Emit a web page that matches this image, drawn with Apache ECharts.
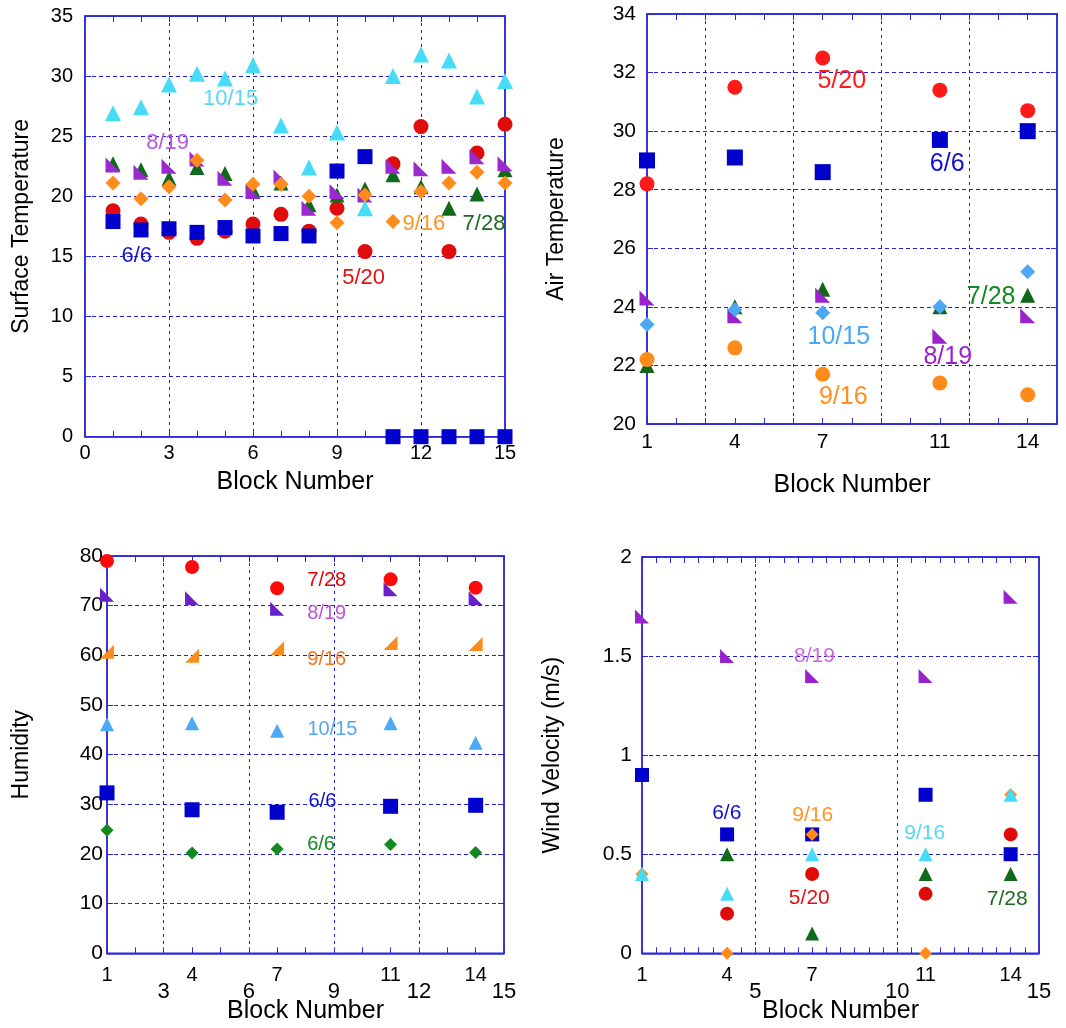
<!DOCTYPE html>
<html>
<head>
<meta charset="utf-8">
<script src="https://cdn.jsdelivr.net/npm/echarts@6/dist/echarts.min.js"></script>
<style>
html, body { margin: 0; padding: 0; background: #fff; }
#chart { width: 1066px; height: 1028px; }
</style>
</head>
<body>
<div id="chart"></div>
<script>
// ---- Surface temperature, every block 1..15 ----
const surfBlocks = [1, 2, 3, 4, 5, 6, 7, 8, 9, 10, 11, 12, 13, 14, 15];
const surf0520 = [18.8, 17.7, 17.0, 16.5, 17.1, 17.7, 18.5, 17.1, 19.0, 15.4, 22.7, 25.8, 15.4, 23.6, 26.0];
const surf0606 = [17.9, 17.2, 17.3, 17.0, 17.4, 16.7, 16.9, 16.7, 22.1, 23.3, 0, 0, 0, 0, 0];
const surf0728 = [22.7, 22.2, 21.5, 22.4, 21.9, 20.5, 21.1, 19.3, 20.1, 20.6, 21.8, 20.8, 19.0, 20.2, 22.2];
const surf0819 = [22.6, 22.0, 22.5, 23.1, 21.5, 20.4, 21.6, 19.0, 20.4, 20.1, 22.5, 22.3, 22.5, 23.3, 22.7];
const surf0916 = [21.1, 19.8, 20.8, 23.0, 19.7, 21.0, 21.0, 20.0, 17.8, 20.1, 17.9, 20.4, 21.1, 22.0, 21.1];
const surf1015 = [26.9, 27.4, 29.3, 30.2, 29.8, 30.9, 25.9, 22.4, 25.3, 19.0, 30.0, 31.8, 31.3, 28.3, 29.6];

// ---- Sampled blocks for air temperature, humidity and wind ----
const sampleBlocks = [1, 4, 7, 11, 14];

const air0520 = [28.2, 31.5, 32.5, 31.4, 30.7];
const air0606 = [29.0, 29.1, 28.6, 29.7, 30.0];
const air0728 = [22.0, 24.0, 24.6, 24.0, 24.4];
const air0819 = [24.3, 23.7, 24.4, 23.0, 23.7];
const air0916 = [22.2, 22.6, 21.7, 21.4, 21.0];
const air1015 = [23.4, 23.9, 23.8, 24.0, 25.2];

const humRed = [79.0, 77.8, 73.5, 75.3, 73.6];
const humPurple = [72.2, 71.5, 69.4, 73.3, 71.5];
const humOrange = [60.7, 59.9, 61.4, 62.5, 62.3];
const humLightBlue = [46.1, 46.3, 44.8, 46.3, 42.4];
const humBlue = [32.3, 28.9, 28.4, 29.6, 29.8];
const humGreen = [24.8, 20.2, 21.0, 21.9, 20.3];

const wind0520 = [null, 0.2, 0.4, 0.3, 0.6];
const wind0606 = [0.9, 0.6, 0.6, 0.8, 0.5];
const wind0728 = [null, 0.5, 0.1, 0.4, 0.4];
const wind0819 = [1.7, 1.5, 1.4, 1.4, 1.8];
const wind0916 = [0.4, 0, 0.6, 0, 0.8];
const windCyan = [0.4, 0.3, 0.5, 0.5, 0.8];

// ---- Axis tick labels ----
const surfXLabels = [0, 3, 6, 9, 12, 15];
const blockLabels = [1, 4, 7, 11, 14];
const thirdsLabels = [3, 6, 9, 12, 15];
const fifthsLabels = [5, 10, 15];

// ---- Date tags written inside each panel: [block, value, text] ----
const surfNotes = [[5.2, 28.1, '10/15'], [2.95, 24.4, '8/19'], [1.85, 15.0, '6/6'],
                   [9.95, 13.2, '5/20'], [12.1, 17.7, '9/16'], [14.25, 17.7, '7/28']];
const airNotes = [[7.65, 31.7, '5/20'], [11.25, 28.87, '6/6'], [12.75, 24.33, '7/28'],
                  [7.55, 22.97, '10/15'], [11.27, 22.29, '8/19'], [7.7, 20.92, '9/16']];
const humNotes = [[8.75, 75.1, '7/28'], [8.75, 68.4, '8/19'], [8.75, 59.1, '9/16'],
                  [8.95, 45.1, '10/15'], [8.6, 30.5, '6/6'], [8.55, 22.0, '6/6']];
const windNotes = [[7.08, 1.5, '8/19'], [3.99, 0.706, '6/6'], [7.02, 0.698, '9/16'],
                   [10.97, 0.607, '9/16'], [6.9, 0.279, '5/20'], [13.88, 0.274, '7/28']];

const FONT = '"Liberation Sans", Arial, Helvetica, sans-serif';
const FRAME = '#2b2bd6';
const DASH = '#1f1fd8';
const LOWER_LEFT = 'path://M0 0L0 10L10 10Z';
const LOWER_RIGHT = 'path://M10 0L10 10L0 10Z';

function range(a, b, step) {
  const out = [];
  for (let v = a; v <= b + 1e-9; v += step) out.push(Math.round(v * 100) / 100);
  return out;
}

const option = {
  animation: false,
  backgroundColor: '#ffffff',
  grid: [], xAxis: [], yAxis: [], series: []
};

function addPanel(p) {
  const gi = option.grid.length;
  option.grid.push({
    left: p.box[0], top: p.box[1], width: p.box[2], height: p.box[3],
    show: true, borderColor: FRAME, borderWidth: 1.5, backgroundColor: 'transparent',
    containLabel: false, outerBoundsMode: 'none'
  });
  const xi = option.xAxis.length;
  const yi = option.yAxis.length;
  const frameLine = { show: true, onZero: false, lineStyle: { color: FRAME, width: 1.5 } };
  const tickStyle = { color: FRAME, width: 1 };

  // bottom axis: block labels and small inward ticks
  option.xAxis.push({
    type: 'value', gridIndex: gi, position: 'bottom', min: p.xMin, max: p.xMax,
    name: p.xName, nameLocation: 'middle', nameGap: p.xNameGap,
    nameTextStyle: { fontFamily: FONT, fontSize: 25, color: '#000' },
    axisLine: frameLine,
    axisTick: { show: true, inside: true, length: 6, customValues: p.xTicks, lineStyle: tickStyle },
    axisLabel: { show: true, customValues: p.xLabels, fontFamily: FONT, fontSize: p.xLabelSize,
                 color: '#000', margin: p.xLabelMargin },
    splitLine: { show: false }
  });
  // second bottom axis: vertical dashed grid, optional lower label row
  option.xAxis.push({
    type: 'value', gridIndex: gi, position: 'bottom', min: p.xMin, max: p.xMax,
    axisLine: { show: false, onZero: false },
    axisTick: { show: false, customValues: p.xGrid },
    axisLabel: p.xLabels2
      ? { show: true, customValues: p.xLabels2, fontFamily: FONT, fontSize: 22, color: '#000', margin: p.xLabel2Margin }
      : { show: false },
    splitLine: { show: true, lineStyle: { color: DASH, width: 1, type: [3, 4] } }
  });
  // top edge ticks
  option.xAxis.push({
    type: 'value', gridIndex: gi, position: 'top', min: p.xMin, max: p.xMax,
    axisLine: frameLine,
    axisTick: { show: true, inside: true, length: 6, customValues: p.xTicks, lineStyle: tickStyle },
    axisLabel: { show: false }, splitLine: { show: false }
  });
  // left value axis
  option.yAxis.push({
    type: 'value', gridIndex: gi, position: 'left', min: p.yMin, max: p.yMax, interval: p.yStep,
    name: p.yName, nameLocation: 'middle', nameGap: p.yNameGap,
    nameTextStyle: { fontFamily: FONT, fontSize: 23, color: '#000' },
    axisLine: frameLine,
    axisTick: { show: true, inside: true, length: 6, lineStyle: tickStyle },
    axisLabel: { show: true, fontFamily: FONT, fontSize: p.yLabelSize, color: '#000', margin: p.yLabelMargin },
    splitLine: { show: true, lineStyle: { color: DASH, width: 1, type: [4, 3] } }
  });
  // right edge ticks
  option.yAxis.push({
    type: 'value', gridIndex: gi, position: 'right', min: p.yMin, max: p.yMax, interval: p.yStep,
    axisLine: frameLine,
    axisTick: { show: true, inside: true, length: 6, lineStyle: tickStyle },
    axisLabel: { show: false }, splitLine: { show: false }
  });

  p.series.forEach(function (s) {
    const data = [];
    p.blocks.forEach(function (b, i) {
      if (s.values[i] !== null && s.values[i] !== undefined) data.push([b, s.values[i]]);
    });
    option.series.push({
      type: 'scatter', name: s.name, xAxisIndex: xi, yAxisIndex: yi, silent: true,
      symbol: s.symbol, symbolSize: s.size, itemStyle: { color: s.color, opacity: 1 },
      emphasis: { disabled: true }, data: data
    });
  });

  p.notes.forEach(function (n, i) {
    option.series.push({
      type: 'scatter', xAxisIndex: xi, yAxisIndex: yi, silent: true, z: 5,
      symbol: 'circle', symbolSize: 1, itemStyle: { color: 'rgba(255,255,255,0)', opacity: 1 },
      emphasis: { disabled: true },
      label: { show: true, position: 'inside', formatter: n[2], color: p.noteColors[i],
               fontFamily: FONT, fontSize: p.noteSize, textBorderWidth: 0, opacity: 1 },
      data: [[n[0], n[1]]]
    });
  });
}

// Surface temperature
addPanel({
  box: [85, 16, 420, 420.7],
  xMin: 0, xMax: 15, xTicks: range(0, 15, 1), xLabels: surfXLabels, xGrid: [3, 6, 9, 12],
  xLabelSize: 20, xLabelMargin: 7, xName: 'Block Number', xNameGap: 33,
  yMin: 0, yMax: 35, yStep: 5, yLabelSize: 20, yLabelMargin: 12,
  yName: 'Surface Temperature', yNameGap: 52,
  blocks: surfBlocks,
  series: [
    { name: '5/20', values: surf0520, symbol: 'circle', size: 15, color: '#e00b0b' },
    { name: '6/6', values: surf0606, symbol: 'rect', size: 15, color: '#0000cc' },
    { name: '7/28', values: surf0728, symbol: 'triangle', size: 15, color: '#116a1c' },
    { name: '8/19', values: surf0819, symbol: LOWER_LEFT, size: 15, color: '#9a2acc' },
    { name: '9/16', values: surf0916, symbol: 'diamond', size: 15, color: '#ff8c1a' },
    { name: '10/15', values: surf1015, symbol: 'triangle', size: 16, color: '#46dcf8' }
  ],
  notes: surfNotes, noteSize: 22,
  noteColors: ['#55d8f5', '#b955dc', '#1414cc', '#e01010', '#ff9422', '#1a6b1a']
});

// Air temperature
addPanel({
  box: [647, 14, 410, 410],
  xMin: 1, xMax: 15, xTicks: range(1, 15, 1), xLabels: blockLabels, xGrid: [3, 6, 9, 12],
  xLabelSize: 21, xLabelMargin: 8, xName: 'Block Number', xNameGap: 49,
  yMin: 20, yMax: 34, yStep: 2, yLabelSize: 21, yLabelMargin: 11,
  yName: 'Air Temperature', yNameGap: 79,
  blocks: sampleBlocks,
  series: [
    { name: '5/20', values: air0520, symbol: 'circle', size: 15, color: '#ff1a1a' },
    { name: '6/6', values: air0606, symbol: 'rect', size: 16, color: '#0000cc' },
    { name: '7/28', values: air0728, symbol: 'triangle', size: 15, color: '#11661a' },
    { name: '8/19', values: air0819, symbol: LOWER_LEFT, size: 15, color: '#9a22cc' },
    { name: '9/16', values: air0916, symbol: 'circle', size: 15, color: '#ff8c1a' },
    { name: '10/15', values: air1015, symbol: 'diamond', size: 15, color: '#4aa8f5' }
  ],
  notes: airNotes, noteSize: 25,
  noteColors: ['#ff1a1a', '#1010cc', '#138a20', '#4aa8f5', '#9a22cc', '#ff9020']
});

// Humidity
addPanel({
  box: [107, 556, 397, 397.3],
  xMin: 1, xMax: 15, xTicks: range(1, 15, 1), xLabels: blockLabels, xGrid: [3, 6, 9, 12],
  xLabels2: thirdsLabels, xLabel2Margin: 28,
  xLabelSize: 20, xLabelMargin: 12, xName: 'Block Number', xNameGap: 45,
  yMin: 0, yMax: 80, yStep: 10, yLabelSize: 21, yLabelMargin: 4,
  yName: 'Humidity', yNameGap: 74,
  blocks: sampleBlocks,
  series: [
    { name: '7/28', values: humRed, symbol: 'circle', size: 14, color: '#ff0a0a' },
    { name: '8/19', values: humPurple, symbol: LOWER_LEFT, size: 14, color: '#6a1fcc' },
    { name: '9/16', values: humOrange, symbol: LOWER_RIGHT, size: 14, color: '#ff8c1a' },
    { name: '10/15', values: humLightBlue, symbol: 'triangle', size: 14, color: '#4aaaf5' },
    { name: '6/6', values: humBlue, symbol: 'rect', size: 15, color: '#0000cc' },
    { name: '6/6 ', values: humGreen, symbol: 'diamond', size: 13, color: '#138a20' }
  ],
  notes: humNotes, noteSize: 20,
  noteColors: ['#ee0000', '#bb55dd', '#f07820', '#55aaee', '#1010cc', '#138a20']
});

// Wind velocity
addPanel({
  box: [642, 557, 397, 396.3],
  xMin: 1, xMax: 15, xTicks: range(1, 15, 0.5), xLabels: blockLabels, xGrid: [5, 10],
  xLabels2: fifthsLabels, xLabel2Margin: 28,
  xLabelSize: 20, xLabelMargin: 12, xName: 'Block Number', xNameGap: 45,
  yMin: 0, yMax: 2, yStep: 0.5, yLabelSize: 21, yLabelMargin: 10,
  yName: 'Wind Velocity (m/s)', yNameGap: 78,
  blocks: sampleBlocks,
  series: [
    { name: '5/20', values: wind0520, symbol: 'circle', size: 14, color: '#e00b0b' },
    { name: '6/6', values: wind0606, symbol: 'rect', size: 14, color: '#0000cc' },
    { name: '7/28', values: wind0728, symbol: 'triangle', size: 14, color: '#116a1c' },
    { name: '8/19', values: wind0819, symbol: LOWER_LEFT, size: 14, color: '#9a22cc' },
    { name: '9/16', values: wind0916, symbol: 'diamond', size: 13, color: '#ff8c1a' },
    { name: '10/15', values: windCyan, symbol: 'triangle', size: 14, color: '#46dcf8' }
  ],
  notes: windNotes, noteSize: 21,
  noteColors: ['#cc66dd', '#1010cc', '#ff9422', '#55d8f5', '#e01010', '#1a6b1a']
});

const chart = echarts.init(document.getElementById('chart'), null, { renderer: 'canvas' });
chart.setOption(option);
</script>
</body>
</html>
